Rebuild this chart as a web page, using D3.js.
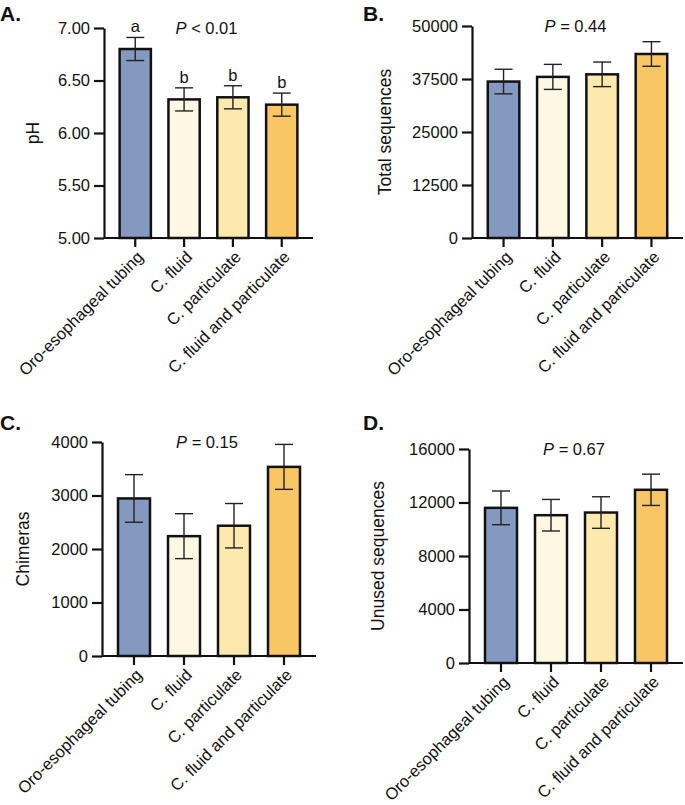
<!DOCTYPE html>
<html>
<head>
<meta charset="utf-8">
<script src="https://cdn.jsdelivr.net/npm/d3@7"></script>
<style>
  body { margin: 0; background: #fff; }
  svg { font-family: "Liberation Sans", Arial, sans-serif; }
  .axis path, .axis line { stroke: #111; stroke-width: 2.2px; }
  .axis text { font-size: 16.5px; fill: #111; }
</style>
</head>
<body>
<svg width="685" height="805"></svg>
<script>
const groups = ["Oro-esophageal tubing", "C. fluid", "C. particulate", "C. fluid and particulate"];
const colors = ["#8399bf", "#fef7e4", "#fde9ae", "#f9c665"];

const phMean = [6.80, 6.32, 6.34, 6.27];
const phSE = [0.11, 0.11, 0.11, 0.11];
const phLetters = ["a", "b", "b", "b"];

const totalMean = [36900, 38000, 38600, 43400];
const totalSE = [2900, 2950, 2900, 2900];

const chimMean = [2945, 2240, 2435, 3535];
const chimSE = [445, 420, 415, 420];

const unusedMean = [11600, 11050, 11250, 12950];
const unusedSE = [1260, 1180, 1180, 1170];

const svg = d3.select("svg");

const panels = [
  { tag: "A.", tagX: 0, tagY: 21, left: 104, right: 313, top: 28, bottom: 238,
    domain: [5, 7], ticks: [5, 5.5, 6, 6.5, 7], fmt: d3.format(".2f"),
    title: "pH", titleX: 33, p: "< 0.01", mean: phMean, se: phSE, letters: phLetters },
  { tag: "B.", tagX: 363, tagY: 21, left: 472, right: 683, top: 26, bottom: 238,
    domain: [0, 50000], ticks: [0, 12500, 25000, 37500, 50000], fmt: d3.format("d"),
    title: "Total sequences", titleX: 385, p: "= 0.44", mean: totalMean, se: totalSE },
  { tag: "C.", tagX: 0, tagY: 430, left: 102, right: 316, top: 442, bottom: 656,
    domain: [0, 4000], ticks: [0, 1000, 2000, 3000, 4000], fmt: d3.format("d"),
    title: "Chimeras", titleX: 23, p: "= 0.15", mean: chimMean, se: chimSE },
  { tag: "D.", tagX: 363, tagY: 430, left: 469, right: 683, top: 449, bottom: 663,
    domain: [0, 16000], ticks: [0, 4000, 8000, 12000, 16000], fmt: d3.format("d"),
    title: "Unused sequences", titleX: 378, p: "= 0.67", mean: unusedMean, se: unusedSE },
];

panels.forEach(drawPanel);

function drawPanel(cfg) {
  const g = svg.append("g");

  const x = d3.scaleBand()
    .domain(groups)
    .range([cfg.left, cfg.right])
    .paddingInner(0.36)
    .paddingOuter(0.32);

  const y = d3.scaleLinear().domain(cfg.domain).range([cfg.bottom, cfg.top]);

  const data = groups.map((name, i) => ({
    name, mean: cfg.mean[i], se: cfg.se[i], color: colors[i],
    letter: cfg.letters ? cfg.letters[i] : null
  }));

  // bars
  g.selectAll("rect.bar")
    .data(data)
    .enter()
    .append("rect").attr("class", "bar")
    .attr("x", d => x(d.name))
    .attr("y", d => y(d.mean))
    .attr("width", x.bandwidth())
    .attr("height", d => y(cfg.domain[0]) - y(d.mean))
    .attr("fill", d => d.color)
    .attr("stroke", "#111")
    .attr("stroke-width", 2.5);

  // error bars
  const err = g.selectAll("g.err")
    .data(data)
    .enter()
    .append("g").attr("class", "err")
    .attr("stroke", "#222")
    .attr("stroke-width", 1.4);

  const cx = d => x(d.name) + x.bandwidth() / 2;
  const cap = 9;

  err.append("line")
    .attr("x1", cx).attr("x2", cx)
    .attr("y1", d => y(d.mean + d.se))
    .attr("y2", d => y(d.mean - d.se));
  err.append("line")
    .attr("x1", d => cx(d) - cap).attr("x2", d => cx(d) + cap)
    .attr("y1", d => y(d.mean + d.se)).attr("y2", d => y(d.mean + d.se));
  err.append("line")
    .attr("x1", d => cx(d) - cap).attr("x2", d => cx(d) + cap)
    .attr("y1", d => y(d.mean - d.se)).attr("y2", d => y(d.mean - d.se));

  // significance letters
  if (cfg.letters) {
    g.selectAll("text.letter")
      .data(data)
      .enter()
      .append("text").attr("class", "letter")
      .attr("x", cx)
      .attr("y", d => y(d.mean + d.se) - 5)
      .attr("text-anchor", "middle")
      .attr("font-size", 16.5)
      .attr("fill", "#111")
      .text(d => d.letter);
  }

  // axes
  const yAxis = d3.axisLeft(y).tickValues(cfg.ticks).tickFormat(cfg.fmt)
    .tickSize(10).tickSizeOuter(0).tickPadding(4);
  g.append("g").attr("class", "axis")
    .attr("transform", `translate(${cfg.left},0)`)
    .call(yAxis);

  const xAxis = d3.axisBottom(x).tickSize(9).tickSizeOuter(0).tickFormat("");
  const gx = g.append("g").attr("class", "axis")
    .attr("transform", `translate(0,${cfg.bottom})`)
    .call(xAxis);
  gx.select(".domain").attr("d", `M${cfg.left},0H${cfg.right}`);

  g.selectAll("text.xlab")
    .data(groups)
    .enter()
    .append("text").attr("class", "xlab")
    .attr("transform", d => `translate(${x(d) + x.bandwidth() / 2 + 5},${cfg.bottom + 16}) rotate(-45)`)
    .attr("text-anchor", "end")
    .attr("dy", "0.35em")
    .attr("font-size", 16.5)
    .attr("fill", "#111")
    .text(d => d);

  // y title
  g.append("text")
    .attr("transform", `translate(${cfg.titleX},${(cfg.top + cfg.bottom) / 2}) rotate(-90)`)
    .attr("text-anchor", "middle")
    .attr("dy", "0.35em")
    .attr("font-size", 17.5)
    .attr("fill", "#111")
    .text(cfg.title);

  // p value
  const pt = g.append("text")
    .attr("x", (cfg.left + cfg.right) / 2 - 2)
    .attr("y", cfg.top + 6)
    .attr("text-anchor", "middle")
    .attr("font-size", 16.5)
    .attr("fill", "#111");
  pt.append("tspan").attr("font-style", "italic").text("P");
  pt.append("tspan").text(" " + cfg.p);

  // panel tag
  g.append("text")
    .attr("x", cfg.tagX)
    .attr("y", cfg.tagY)
    .attr("font-size", 21)
    .attr("font-weight", "bold")
    .attr("fill", "#111")
    .text(cfg.tag);
}
</script>
</body>
</html>
